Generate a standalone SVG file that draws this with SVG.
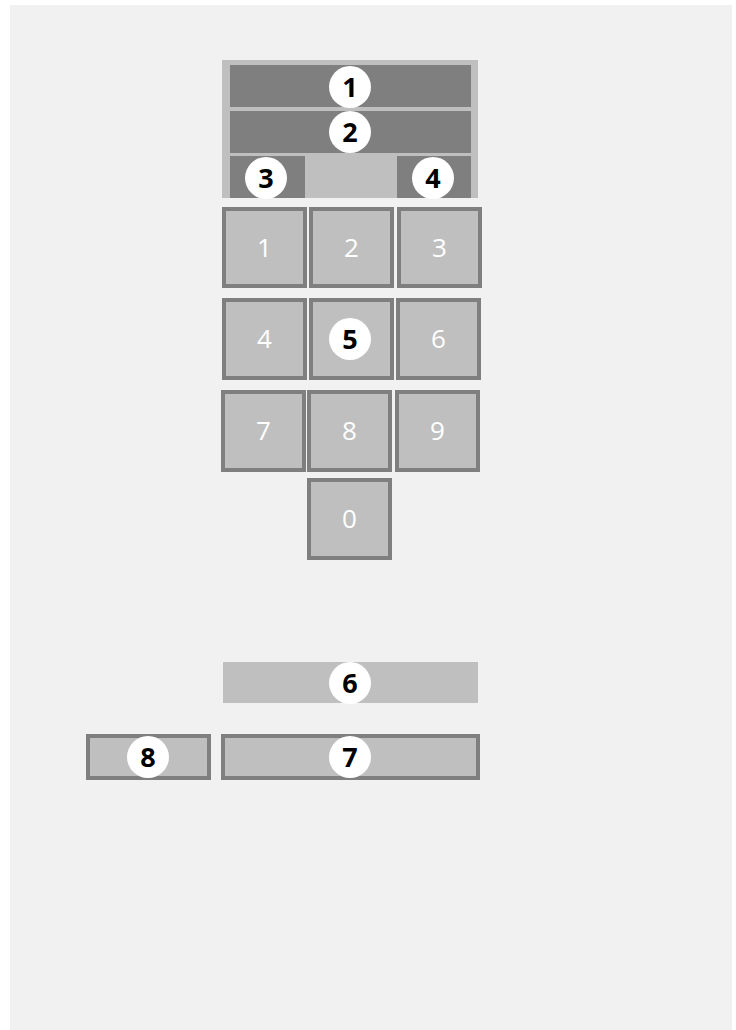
<svg xmlns="http://www.w3.org/2000/svg" width="736" height="1030" viewBox="0 0 736 1030">
<style>
.dark{fill:#7f7f7f}
.key{fill:#bfbfbf;stroke:#7f7f7f;stroke-width:4}
.plain{fill:#bfbfbf}
.kl{font-family:"Open Sans","Noto Sans",sans-serif;font-size:26px;fill:#ffffff;text-anchor:middle}
.badge{fill:#ffffff}
.bl{font-family:"Noto Sans","Liberation Sans",sans-serif;font-size:27px;font-weight:bold;fill:#000000;text-anchor:middle}
</style>
<rect x="0" y="0" width="736" height="1030" fill="#ffffff"/>
<rect x="10" y="5" width="722" height="1025" fill="#f1f1f1"/>
<g id="header">
<rect x="222" y="60" width="256" height="138" class="plain"/>
</g>
<g id="bar1"><rect x="230" y="65" width="241" height="42" class="dark"/><circle cx="350" cy="87" r="21" class="badge"/><text x="350" y="96.5" class="bl">1</text></g>
<g id="bar2"><rect x="230" y="111" width="241" height="42" class="dark"/><circle cx="350" cy="132" r="21" class="badge"/><text x="350" y="141.5" class="bl">2</text></g>
<g id="box3"><rect x="230" y="156" width="75" height="42" class="dark"/><circle cx="266" cy="178" r="21" class="badge"/><text x="266" y="187.5" class="bl">3</text></g>
<g id="box4"><rect x="397" y="156" width="74" height="42" class="dark"/><circle cx="433" cy="178" r="21" class="badge"/><text x="433" y="187.5" class="bl">4</text></g>
<g id="key1"><rect x="224" y="209" width="81" height="77" class="key"/><text x="264.5" y="257" class="kl">1</text></g>
<g id="key2"><rect x="311" y="209" width="81" height="77" class="key"/><text x="351.5" y="257" class="kl">2</text></g>
<g id="key3"><rect x="399" y="209" width="81" height="77" class="key"/><text x="439.5" y="257" class="kl">3</text></g>
<g id="key4"><rect x="224" y="300" width="81" height="78" class="key"/><text x="264.5" y="348" class="kl">4</text></g>
<g id="key5"><rect x="311" y="300" width="81" height="78" class="key"/><circle cx="350" cy="339" r="21" class="badge"/><text x="350" y="348.5" class="bl">5</text></g>
<g id="key6"><rect x="398" y="300" width="81" height="78" class="key"/><text x="438.5" y="348" class="kl">6</text></g>
<g id="key7"><rect x="223" y="392" width="81" height="78" class="key"/><text x="263.5" y="440" class="kl">7</text></g>
<g id="key8"><rect x="309" y="392" width="81" height="78" class="key"/><text x="349.5" y="440" class="kl">8</text></g>
<g id="key9"><rect x="397" y="392" width="81" height="78" class="key"/><text x="437.5" y="440" class="kl">9</text></g>
<g id="key0"><rect x="309" y="480" width="81" height="78" class="key"/><text x="349.5" y="528" class="kl">0</text></g>
<g id="bar6"><rect x="223" y="662" width="255" height="41" class="plain"/><circle cx="350" cy="683" r="21" class="badge"/><text x="350" y="692.5" class="bl">6</text></g>
<g id="bar7"><rect x="223" y="736" width="255" height="42" class="key"/><circle cx="350" cy="757" r="21" class="badge"/><text x="350" y="766.5" class="bl">7</text></g>
<g id="bar8"><rect x="88" y="736" width="121" height="42" class="key"/><circle cx="148" cy="757" r="21" class="badge"/><text x="148" y="766.5" class="bl">8</text></g>
<g id="connectors"/>
</svg>
